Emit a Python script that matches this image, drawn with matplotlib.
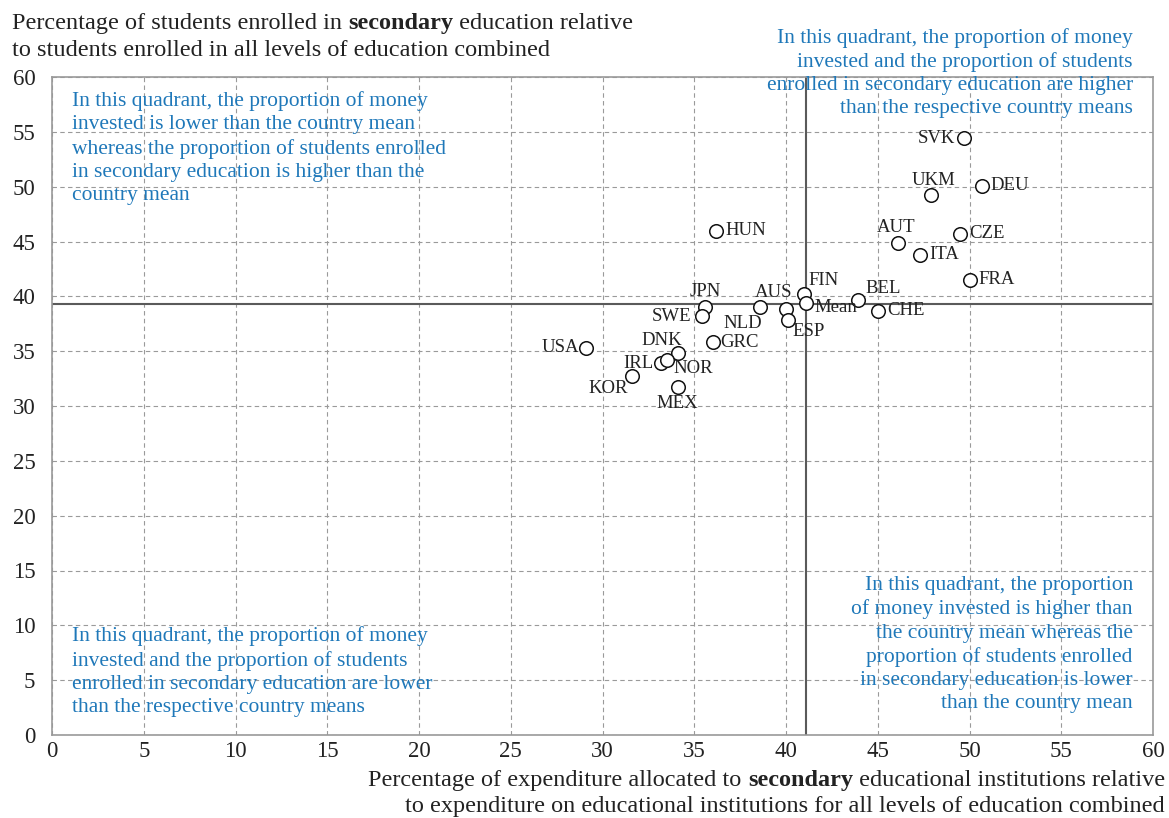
import matplotlib
matplotlib.use("Agg")
import matplotlib.pyplot as plt

countries = ["SVK", "UKM", "DEU", "AUT", "CZE", "ITA", "FRA", "HUN", "BEL", "CHE",
             "FIN", "Mean", "AUS", "ESP", "NLD", "JPN", "SWE", "GRC", "USA", "DNK",
             "IRL", "NOR", "KOR", "MEX"]
expenditure = [49.7, 47.9, 50.7, 46.1, 49.5, 47.3, 50.0, 36.2, 43.9, 45.0,
               41.0, 41.1, 40.0, 40.1, 38.6, 35.6, 35.4, 36.0, 29.1, 34.1,
               33.2, 33.5, 31.6, 34.1]
enrolment = [54.4, 49.2, 50.1, 44.9, 45.7, 43.8, 41.5, 46.0, 39.7, 38.7,
             40.2, 39.4, 38.8, 37.8, 39.0, 39.0, 38.2, 35.8, 35.3, 34.8,
             33.9, 34.2, 32.7, 31.7]
mean_x = 41.1
mean_y = 39.3
ticks = [0, 5, 10, 15, 20, 25, 30, 35, 40, 45, 50, 55, 60]

# label placement: (dx px, dy px, ha)
label_pos = {
    "SVK": (-9, 0, "right"), "UKM": (2, 15, "center"), "DEU": (8, 0, "left"),
    "AUT": (-2, 15, "center"), "CZE": (9, 0, "left"), "ITA": (9, 0, "left"),
    "FRA": (9, 0, "left"), "HUN": (9, 0, "left"), "BEL": (8, 11, "left"),
    "CHE": (9, 0, "left"), "FIN": (4, 14, "left"), "Mean": (8, -5, "left"),
    "AUS": (-12, 17, "center"), "ESP": (5, -11, "left"), "NLD": (2, -16, "right"),
    "JPN": (0, 16, "center"), "SWE": (-10, 0, "right"), "GRC": (8, 0, "left"),
    "USA": (-7, 0, "right"), "DNK": (-16, 13, "center"), "IRL": (-8, 0, "right"),
    "NOR": (7, -9, "left"), "KOR": (-4, -12, "right"), "MEX": (0, -16, "center"),
}

FONT = "Liberation Serif"
BLUE = "#1f78b9"
DARK = "#222222"
plt.rcParams["font.family"] = [FONT, "DejaVu Serif"]

W, H = 1169, 818
fig = plt.figure(figsize=(W / 100, H / 100), dpi=100)
ax = fig.add_axes([52 / W, 1 - 735 / H, (1153 - 52) / W, (735 - 77) / H])
ax.set_xlim(0, 60)
ax.set_ylim(0, 60)
ax.set_xticks(ticks)
ax.set_yticks(ticks)
ax.tick_params(length=0, labelsize=16.5, colors=DARK)
ax.tick_params(axis="x", pad=4)
ax.tick_params(axis="y", pad=12)
for s in ax.spines.values():
    s.set_color("#999999")
    s.set_linewidth(1.2)
ax.grid(True, color="#9a9a9a", linestyle=(0, (4, 3)), linewidth=0.8)
ax.set_axisbelow(True)

ax.axvline(mean_x, color="#5a5a5a", lw=1.5, zorder=2)
ax.axhline(mean_y, color="#5a5a5a", lw=1.5, zorder=2)

ax.scatter(expenditure, enrolment, s=95, facecolor="white", edgecolor="#111111",
           linewidth=1.1, zorder=4)
for c, x, y in zip(countries, expenditure, enrolment):
    dx, dy, ha = label_pos[c]
    ax.annotate(c, (x, y), xytext=(dx, dy), textcoords="offset pixels",
                ha=ha, va="center", fontsize=13.5, color=DARK, zorder=5)

qkw = dict(fontsize=15.5, color=BLUE, linespacing=1.3, zorder=6)
ax.text(1.1, 58.7, "In this quadrant, the proportion of money\n"
        "invested is lower than the country mean\n"
        "whereas the proportion of students enrolled\n"
        "in secondary education is higher than the\n"
        "country mean", ha="left", va="top", **qkw)
ax.text(58.9, 64.5, "In this quadrant, the proportion of money\n"
        "invested and the proportion of students\n"
        "enrolled in secondary education are higher\n"
        "than the respective country means", ha="right", va="top",
        multialignment="right", clip_on=False, **qkw)
ax.text(58.9, 14.5, "In this quadrant, the proportion\n"
        "of money invested is higher than\n"
        "the country mean whereas the\n"
        "proportion of students enrolled\n"
        "in secondary education is lower\n"
        "than the country mean", ha="right", va="top",
        multialignment="right", **qkw)
ax.text(1.1, 9.9, "In this quadrant, the proportion of money\n"
        "invested and the proportion of students\n"
        "enrolled in secondary education are lower\n"
        "than the respective country means", ha="left", va="top", **qkw)

renderer = fig.canvas.get_renderer()


def seg_line(parts, x, y, align="left", size=17.5):
    """Draw a line of text pieces (text, bold) in figure pixel coords."""
    texts = []
    widths = []
    for t, b in parts:
        tx = fig.text(0, 0, t, fontsize=size, color=DARK,
                      fontweight="bold" if b else "normal", va="baseline")
        w = tx.get_window_extent(renderer).width
        texts.append(tx)
        widths.append(w)
    total = sum(widths)
    start = x if align == "left" else x - total
    cur = start
    for tx, w in zip(texts, widths):
        tx.set_position((cur / W, 1 - y / H))
        cur += w


seg_line([("Percentage of students enrolled in ", False), ("secondary", True),
          (" education relative", False)], 12, 29)
seg_line([("to students enrolled in all levels of education combined", False)], 12, 56)
seg_line([("Percentage of expenditure allocated to ", False), ("secondary", True),
          (" educational institutions relative", False)], 1165, 786, align="right")
seg_line([("to expenditure on educational institutions for all levels of education combined", False)],
         1165, 812, align="right")

fig.savefig("out.png", dpi=100)
